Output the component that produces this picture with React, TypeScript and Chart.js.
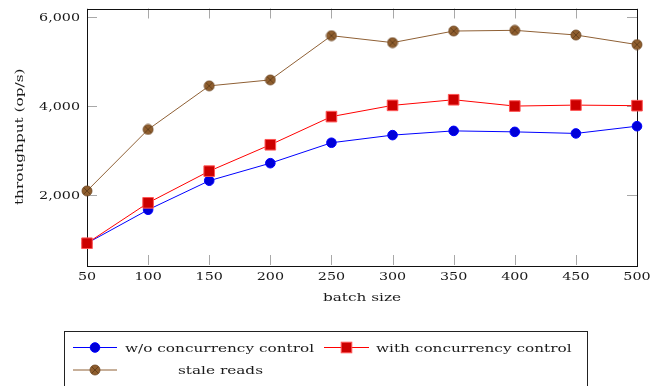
import React, { useEffect, useRef } from "react";
import { Chart, registerables } from "chart.js";

Chart.register(...registerables);

const batchSizes = [50, 100, 150, 200, 250, 300, 350, 400, 450, 500];
const withoutCC = [926, 1676, 2327, 2720, 3178, 3349, 3444, 3422, 3387, 3549];
const withCC = [926, 1831, 2542, 3133, 3764, 4016, 4142, 4000, 4022, 4009];
const staleReads = [2098, 3475, 4453, 4587, 5578, 5422, 5682, 5698, 5593, 5378];
const yTickValues = [2000, 4000, 6000];
const xTickValues = batchSizes;
const seriesLabels = ["w/o concurrency control", "with concurrency control", "stale reads"];
const xTitle = "batch size";
const yTitle = "throughput (op/s)";

const FONT = "11px 'DejaVu Serif'";
const TEXT = "#1a1a1a";
const BLUE_LINE = "#0000ff";
const BLUE_FILL = "#0000d9";
const RED_LINE = "#ff0000";
const RED_FILL = "#cc0000";
const RED_BORDER = "#ff5555";
const BROWN_LINE = "#8f6035";
const BROWN_FILL = "#8f5e2e";

function makeBrownMarker(): HTMLCanvasElement {
  const c = document.createElement("canvas");
  c.width = 12;
  c.height = 12;
  const g = c.getContext("2d")!;
  g.beginPath();
  g.arc(6, 6, 5, 0, Math.PI * 2);
  g.fillStyle = BROWN_FILL;
  g.fill();
  g.lineWidth = 0.8;
  g.strokeStyle = "#6b4420";
  g.stroke();
  g.beginPath();
  const d = 3.3;
  g.moveTo(6 - d, 6 - d);
  g.lineTo(6 + d, 6 + d);
  g.moveTo(6 - d, 6 + d);
  g.lineTo(6 + d, 6 - d);
  g.strokeStyle = "#5a3818";
  g.lineWidth = 0.8;
  g.stroke();
  return c;
}

function drawText(
  ctx: CanvasRenderingContext2D,
  text: string,
  x: number,
  y: number,
  align: CanvasTextAlign,
  sx: number,
  rotate = false
) {
  ctx.save();
  ctx.translate(x, y);
  if (rotate) ctx.rotate(-Math.PI / 2);
  ctx.scale(sx, 1);
  ctx.font = FONT;
  ctx.fillStyle = TEXT;
  ctx.textAlign = align;
  ctx.textBaseline = "alphabetic";
  ctx.fillText(text, 0, 0);
  ctx.restore();
}

export default function App() {
  const ref = useRef<HTMLCanvasElement>(null);

  useEffect(() => {
    const canvas = ref.current!;
    const brown = makeBrownMarker();

    const frame = {
      id: "frame",
      beforeDatasetsDraw(chart: any) {
        const { ctx, chartArea: a, scales } = chart;
        ctx.save();
        ctx.strokeStyle = "#a8a8a8";
        ctx.lineWidth = 1;
        const L = 10;
        for (const v of xTickValues) {
          const px = Math.round(scales.x.getPixelForValue(v)) + 0.5;
          ctx.beginPath();
          ctx.moveTo(px, a.bottom);
          ctx.lineTo(px, a.bottom - L);
          ctx.moveTo(px, a.top);
          ctx.lineTo(px, a.top + L);
          ctx.stroke();
        }
        for (const v of yTickValues) {
          const py = Math.round(scales.y.getPixelForValue(v)) + 0.5;
          ctx.beginPath();
          ctx.moveTo(a.left, py);
          ctx.lineTo(a.left + L, py);
          ctx.moveTo(a.right, py);
          ctx.lineTo(a.right - L, py);
          ctx.stroke();
        }
        ctx.strokeStyle = "#111";
        ctx.lineWidth = 1;
        ctx.strokeRect(
          Math.round(a.left) + 0.5,
          Math.round(a.top) + 0.5,
          Math.round(a.right - a.left),
          Math.round(a.bottom - a.top)
        );
        ctx.restore();
      },
      afterDraw(chart: any) {
        const { ctx, chartArea: a, scales } = chart;
        const tickSx = 1.3;
        const textSx = 1.39;
        for (const v of xTickValues) {
          drawText(ctx, String(v), scales.x.getPixelForValue(v), 280, "center", tickSx);
        }
        for (const v of yTickValues) {
          drawText(ctx, v.toLocaleString("en-US"), 80, scales.y.getPixelForValue(v) + 4, "right", tickSx);
        }
        drawText(ctx, xTitle, (a.left + a.right) / 2, 301, "center", textSx);
        drawText(ctx, yTitle, 22.5, (a.top + a.bottom) / 2, "center", textSx, true);

        // legend
        ctx.save();
        ctx.strokeStyle = "#222";
        ctx.lineWidth = 1;
        ctx.strokeRect(64.5, 331.5, 523, 70);
        ctx.restore();

        const line = (x1: number, x2: number, y: number, color: string) => {
          ctx.save();
          ctx.strokeStyle = color;
          ctx.lineWidth = 1;
          ctx.beginPath();
          ctx.moveTo(x1, y);
          ctx.lineTo(x2, y);
          ctx.stroke();
          ctx.restore();
        };
        const r1 = 347.5;
        const r2 = 370;
        line(73, 117, r1, BLUE_LINE);
        ctx.save();
        ctx.beginPath();
        ctx.arc(95, r1, 4.8, 0, Math.PI * 2);
        ctx.fillStyle = BLUE_FILL;
        ctx.fill();
        ctx.strokeStyle = BLUE_LINE;
        ctx.stroke();
        ctx.restore();
        drawText(ctx, seriesLabels[0], 125, 352, "left", textSx);

        line(324, 369, r1, RED_LINE);
        ctx.save();
        ctx.fillStyle = RED_FILL;
        ctx.strokeStyle = RED_BORDER;
        ctx.fillRect(346.5 - 5.3, r1 - 5.3, 10.6, 10.6);
        ctx.strokeRect(346.5 - 5.3, r1 - 5.3, 10.6, 10.6);
        ctx.restore();
        drawText(ctx, seriesLabels[1], 376, 352, "left", textSx);

        line(73, 117, r2, BROWN_LINE);
        ctx.drawImage(brown, 95 - 6, r2 - 6);
        drawText(ctx, seriesLabels[2], 220.5, 374, "center", textSx);
      },
    };

    const chart = new Chart(canvas, {
      type: "line",
      data: {
        datasets: [
          {
            label: seriesLabels[0],
            data: batchSizes.map((x, i) => ({ x, y: withoutCC[i] })),
            borderColor: BLUE_LINE,
            backgroundColor: BLUE_FILL,
            pointBackgroundColor: BLUE_FILL,
            pointBorderColor: BLUE_LINE,
            pointStyle: "circle",
            pointRadius: 4.8,
            pointBorderWidth: 1,
            borderWidth: 1,
            tension: 0,
            clip: false,
            order: 2,
          },
          {
            label: seriesLabels[1],
            data: batchSizes.map((x, i) => ({ x, y: withCC[i] })),
            borderColor: RED_LINE,
            backgroundColor: RED_FILL,
            pointBackgroundColor: RED_FILL,
            pointBorderColor: RED_BORDER,
            pointStyle: "rect",
            pointRadius: 7.5,
            pointBorderWidth: 1,
            borderWidth: 1,
            tension: 0,
            clip: false,
            order: 1,
          },
          {
            label: seriesLabels[2],
            data: batchSizes.map((x, i) => ({ x, y: staleReads[i] })),
            borderColor: BROWN_LINE,
            backgroundColor: BROWN_FILL,
            pointStyle: brown,
            pointRadius: 5,
            borderWidth: 1,
            tension: 0,
            clip: false,
            order: 3,
          },
        ] as any,
      },
      options: {
        animation: false,
        responsive: false,
        devicePixelRatio: 1,
        layout: { padding: { left: 0, right: 30, top: 6, bottom: 0 } },
        plugins: { legend: { display: false }, tooltip: { enabled: false } },
        scales: {
          x: {
            type: "linear",
            min: 50,
            max: 500,
            grid: { display: false },
            border: { display: false },
            ticks: { display: false },
            afterFit: (s: any) => {
              s.height = 121;
            },
          },
          y: {
            type: "linear",
            min: 438,
            max: 6187,
            grid: { display: false },
            border: { display: false },
            ticks: { display: false },
            afterFit: (s: any) => {
              s.width = 87;
            },
          },
        },
      },
      plugins: [frame],
    });
    return () => chart.destroy();
  }, []);

  return (
    <div style={{ position: "absolute", left: 0, top: 0, width: 667, height: 386 }}>
      <canvas ref={ref} width={667} height={386} style={{ display: "block", width: 667, height: 386 }} />
    </div>
  );
}
